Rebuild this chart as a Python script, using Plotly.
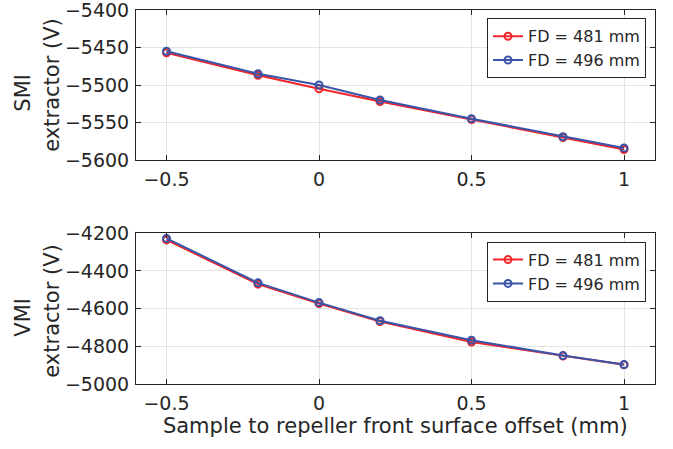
import plotly.graph_objects as go

offset_mm = [-0.5, -0.2, 0, 0.2, 0.5, 0.8, 1]
smi_481 = [-5457, -5487, -5505, -5522, -5546, -5570, -5586]
smi_496 = [-5455, -5485, -5500, -5520, -5545, -5569, -5584]
vmi_481 = [-4235, -4470, -4573, -4668, -4777, -4852, -4898]
vmi_496 = [-4227, -4463, -4568, -4664, -4768, -4849, -4897]
series_names = ["FD = 481 mm", "FD = 496 mm"]
xticks = [-0.5, 0, 0.5, 1]
xticklabels = ["\u22120.5", "0", "0.5", "1"]
smi_ticks = [-5400, -5450, -5500, -5550, -5600]
vmi_ticks = [-4200, -4400, -4600, -4800, -5000]

RED = "#f2262a"
BLUE = "#3a54a8"
INK = "#262626"
FONT = "DejaVu Sans"

def minus(v):
    return str(v).replace("-", "\u2212")

fig = go.Figure()
def add(ys, col, name, xa, ya, lg):
    fig.add_trace(go.Scatter(x=offset_mm, y=ys, mode="lines+markers", name=name,
                             line=dict(color=col, width=2),
                             marker=dict(symbol="circle-open", size=7, color=col, line=dict(width=2)),
                             xaxis=xa, yaxis=ya, legend=lg))

add(smi_481, RED, series_names[0], "x", "y", "legend")
add(smi_496, BLUE, series_names[1], "x", "y", "legend")
add(vmi_481, RED, series_names[0], "x2", "y2", "legend2")
add(vmi_496, BLUE, series_names[1], "x2", "y2", "legend2")

W, H = 673, 449
xdom = [136 / W, 654.5 / W]
axis_common = dict(showline=True, linecolor=INK, linewidth=1, mirror="ticks",
                   ticks="inside", ticklen=5, tickcolor=INK, automargin=False,
                   ticklabeloverflow="allow", ticklabelstandoff=2,
                   showgrid=True, gridcolor="#e3e3e3", gridwidth=1, zeroline=False,
                   tickfont=dict(family=FONT, size=19, color=INK))

fig.update_layout(
    template="none",
    width=W, height=H, margin=dict(l=0, r=0, t=0, b=0, pad=0),
    paper_bgcolor="white", plot_bgcolor="white",
    font=dict(family=FONT, color=INK),
    xaxis=dict(domain=xdom, anchor="y", range=[-0.6, 1.1],
               tickvals=xticks, ticktext=xticklabels, **axis_common),
    yaxis=dict(domain=[(H - 160) / H, (H - 10) / H], anchor="x", range=[-5600, -5400],
               tickvals=smi_ticks, ticktext=[minus(v) for v in smi_ticks], **axis_common),
    xaxis2=dict(domain=xdom, anchor="y2", range=[-0.6, 1.1],
                tickvals=xticks, ticktext=xticklabels,
                title=dict(text="Sample to repeller front surface offset (mm)",
                           font=dict(family=FONT, size=21, color=INK), standoff=2),
                **axis_common),
    yaxis2=dict(domain=[(H - 384) / H, (H - 233.3) / H], anchor="x2", range=[-5000, -4200],
                tickvals=vmi_ticks, ticktext=[minus(v) for v in vmi_ticks], **axis_common),
    legend=dict(x=646 / W, y=(H - 18.3) / H, xanchor="right", yanchor="top",
                bgcolor="white", bordercolor=INK, borderwidth=1,
                font=dict(family=FONT, size=16, color=INK), tracegroupgap=0, itemwidth=30),
    legend2=dict(x=646 / W, y=(H - 241.7) / H, xanchor="right", yanchor="top",
                 bgcolor="white", bordercolor=INK, borderwidth=1,
                 font=dict(family=FONT, size=16, color=INK), tracegroupgap=0, itemwidth=30),
    showlegend=True,
)

def ylabel(text, xc, yc):
    fig.add_annotation(text=text, x=xc / W, y=(H - yc) / H, xref="paper", yref="paper",
                       xanchor="center", yanchor="middle", textangle=-90, showarrow=False,
                       font=dict(family=FONT, size=21, color=INK))

ylabel("SMI", 22.7, 93)
ylabel("extractor (V)", 51.7, 85)
ylabel("VMI", 22.7, 317)
ylabel("extractor (V)", 51.7, 311)

fig.write_html("out.html", config={"displayModeBar": False},
               post_script="document.body.style.margin='0px';")
